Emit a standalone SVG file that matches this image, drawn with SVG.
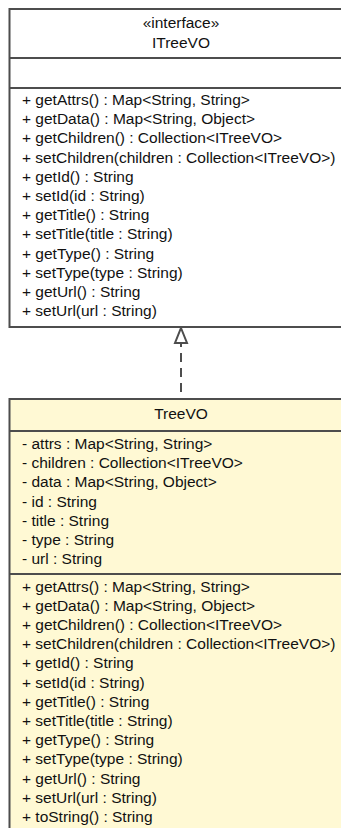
<svg xmlns="http://www.w3.org/2000/svg" width="341" height="828" viewBox="0 0 341 828">
<style>
.box{stroke:#4d4d4d;stroke-width:2}
.div{stroke:#4d4d4d;stroke-width:2}
.t{font-family:"Liberation Sans",Arial,sans-serif;font-size:15.5px;fill:#111}
.c{text-anchor:middle}
.conn{stroke:#4d4d4d;stroke-width:2;fill:none}
</style>
<defs>
<marker id="realize" markerWidth="14" markerHeight="18" refX="7" refY="1" orient="auto" markerUnits="userSpaceOnUse" viewBox="0 0 14 18">
<path d="M7,1 L13,16 L1,16 Z" fill="#fff" stroke="#4d4d4d" stroke-width="2"/>
</marker>
</defs>
<rect width="341" height="828" fill="#fff"/>
<g id="connectors">
<line class="conn" x1="181" y1="343" x2="181" y2="328"/>
<path d="M181,328 L187,343 L175,343 Z" fill="#fff" stroke="#4d4d4d" stroke-width="2"/>
<line class="conn" x1="181" y1="392" x2="181" y2="344" stroke-dasharray="9 6"/>
</g>
<g id="ITreeVO">
<rect class="box" x="9.5" y="9" width="360" height="318" fill="#fff"/>
<line class="div" x1="9.5" y1="58" x2="370" y2="58"/>
<line class="div" x1="9.5" y1="88" x2="370" y2="88"/>
<text class="t c" x="181" y="28">«interface»</text>
<text class="t c" x="181" y="47.5">ITreeVO</text>
<text class="t" x="22" y="105">+ getAttrs() : Map&lt;String, String&gt;</text>
<text class="t" x="22" y="124.2">+ getData() : Map&lt;String, Object&gt;</text>
<text class="t" x="22" y="143.4">+ getChildren() : Collection&lt;ITreeVO&gt;</text>
<text class="t" x="22" y="162.6">+ setChildren(children : Collection&lt;ITreeVO&gt;)</text>
<text class="t" x="22" y="181.8">+ getId() : String</text>
<text class="t" x="22" y="201">+ setId(id : String)</text>
<text class="t" x="22" y="220.2">+ getTitle() : String</text>
<text class="t" x="22" y="239.4">+ setTitle(title : String)</text>
<text class="t" x="22" y="258.6">+ getType() : String</text>
<text class="t" x="22" y="277.8">+ setType(type : String)</text>
<text class="t" x="22" y="297">+ getUrl() : String</text>
<text class="t" x="22" y="316.2">+ setUrl(url : String)</text>
</g>
<g id="TreeVO">
<rect class="box" x="9.5" y="399" width="360" height="450" fill="#fff9d4"/>
<line class="div" x1="9.5" y1="431" x2="370" y2="431"/>
<line class="div" x1="9.5" y1="574" x2="370" y2="574"/>
<text class="t c" x="181" y="419">TreeVO</text>
<text class="t" x="22" y="449">- attrs : Map&lt;String, String&gt;</text>
<text class="t" x="22" y="468.2">- children : Collection&lt;ITreeVO&gt;</text>
<text class="t" x="22" y="487.4">- data : Map&lt;String, Object&gt;</text>
<text class="t" x="22" y="506.6">- id : String</text>
<text class="t" x="22" y="525.8">- title : String</text>
<text class="t" x="22" y="545">- type : String</text>
<text class="t" x="22" y="564.2">- url : String</text>
<text class="t" x="22" y="591.5">+ getAttrs() : Map&lt;String, String&gt;</text>
<text class="t" x="22" y="610.7">+ getData() : Map&lt;String, Object&gt;</text>
<text class="t" x="22" y="629.9">+ getChildren() : Collection&lt;ITreeVO&gt;</text>
<text class="t" x="22" y="649.1">+ setChildren(children : Collection&lt;ITreeVO&gt;)</text>
<text class="t" x="22" y="668.3">+ getId() : String</text>
<text class="t" x="22" y="687.5">+ setId(id : String)</text>
<text class="t" x="22" y="706.7">+ getTitle() : String</text>
<text class="t" x="22" y="725.9">+ setTitle(title : String)</text>
<text class="t" x="22" y="745.1">+ getType() : String</text>
<text class="t" x="22" y="764.3">+ setType(type : String)</text>
<text class="t" x="22" y="783.5">+ getUrl() : String</text>
<text class="t" x="22" y="802.7">+ setUrl(url : String)</text>
<text class="t" x="22" y="821.9">+ toString() : String</text>
</g>
</svg>
